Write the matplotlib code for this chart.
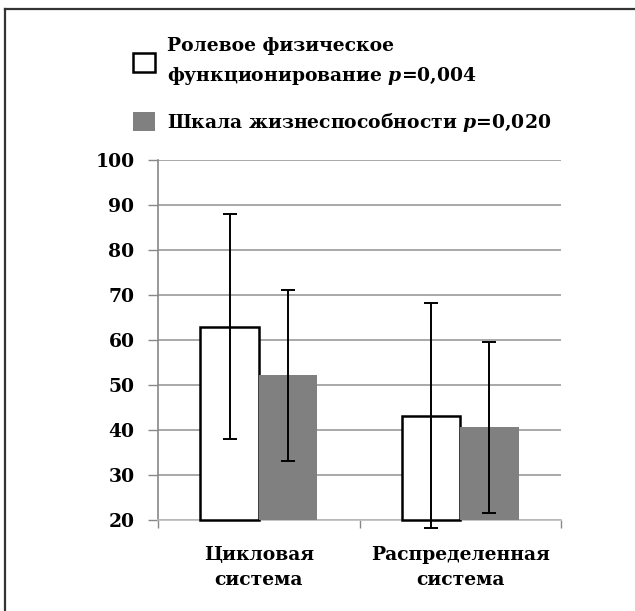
import numpy as np
import matplotlib
matplotlib.use("Agg")
import matplotlib.pyplot as plt
from matplotlib.lines import Line2D

plt.rcParams['font.family'] = ['DejaVu Serif']
plt.rcParams['font.weight'] = 'bold'
plt.rcParams['mathtext.fontset'] = 'dejavuserif'

groups = ["Цикловая\nсистема", "Распределенная\nсистема"]
role_mean = [63, 43.2]
role_err = [25, 25]
vital_mean = [52.2, 40.6]
vital_err = [19, 19]
series_labels = ["Ролевое физическое\nфункционирование $\\mathbfit{p}$=0,004",
                 "Шкала жизнеспособности $\\mathbfit{p}$=0,020"]
yticks = [20, 30, 40, 50, 60, 70, 80, 90, 100]

FS = 13.5

fig = plt.figure(figsize=(6.35, 6.11), dpi=100)
ax = fig.add_axes([158/635, 1 - 520/611, (561-158)/635, (520-160)/611])

x = np.arange(len(groups))
w = 0.29
base = yticks[0]

b1 = ax.bar(x - w/2, np.array(role_mean) - base, w, bottom=base,
            color="white", edgecolor="black", linewidth=1.8, zorder=3, clip_on=False)
b2 = ax.bar(x + w/2, np.array(vital_mean) - base, w, bottom=base,
            color="#808080", edgecolor="none", zorder=4, clip_on=False)

ekw = dict(fmt="none", ecolor="black", elinewidth=1.4, capsize=5, capthick=1.4, zorder=5)
eb1 = ax.errorbar(x - w/2, role_mean, yerr=role_err, **ekw)
eb2 = ax.errorbar(x + w/2, vital_mean, yerr=vital_err, **ekw)
for eb in (eb1, eb2):
    for art in list(eb.lines[1]) + list(eb.lines[2]):
        art.set_clip_on(False)

ax.set_ylim(20, 100)
ax.set_xlim(-0.5, len(groups) - 0.5)
ax.set_yticks(yticks)
ax.yaxis.grid(True, color="#9a9a9a", linewidth=1.2, zorder=0)
ax.set_axisbelow(True)

# category labels at centres, ticks at the boundaries
ax.set_xticks(x)
ax.set_xticklabels(groups, fontsize=FS, fontweight="bold", linespacing=1.5)
ax.tick_params(axis="x", which="major", length=0, pad=18.5)
ax.set_xticks(np.arange(len(groups) + 1) - 0.5, minor=True)
ax.tick_params(axis="x", which="minor", length=6, color="#888888", width=1)
ax.tick_params(axis="y", length=7, color="#888888", width=1, labelsize=FS, pad=10)

for s in ("top", "right"):
    ax.spines[s].set_visible(False)
ax.spines["left"].set_color("#888888")
ax.spines["bottom"].set_color("#bbbbbb")
ax.spines["left"].set_linewidth(1.2)
ax.spines["bottom"].set_linewidth(1.2)

leg = fig.legend([b1, b2], series_labels, loc="upper left",
                 bbox_to_anchor=(133/635, 1 - 37/611), frameon=False,
                 fontsize=FS, handlelength=1.17, handleheight=1.17,
                 handletextpad=0.62, labelspacing=1.3, borderpad=0,
                 borderaxespad=0)
for t in leg.get_texts():
    t.set_linespacing(1.6)

# frame on the left and top edges
fig.add_artist(Line2D([5/635, 5/635], [0, 1 - 9/611], color="#333333", linewidth=1.6))
fig.add_artist(Line2D([5/635, 1], [1 - 9/611, 1 - 9/611], color="#333333", linewidth=1.6))

fig.savefig("out.png", dpi=100)
